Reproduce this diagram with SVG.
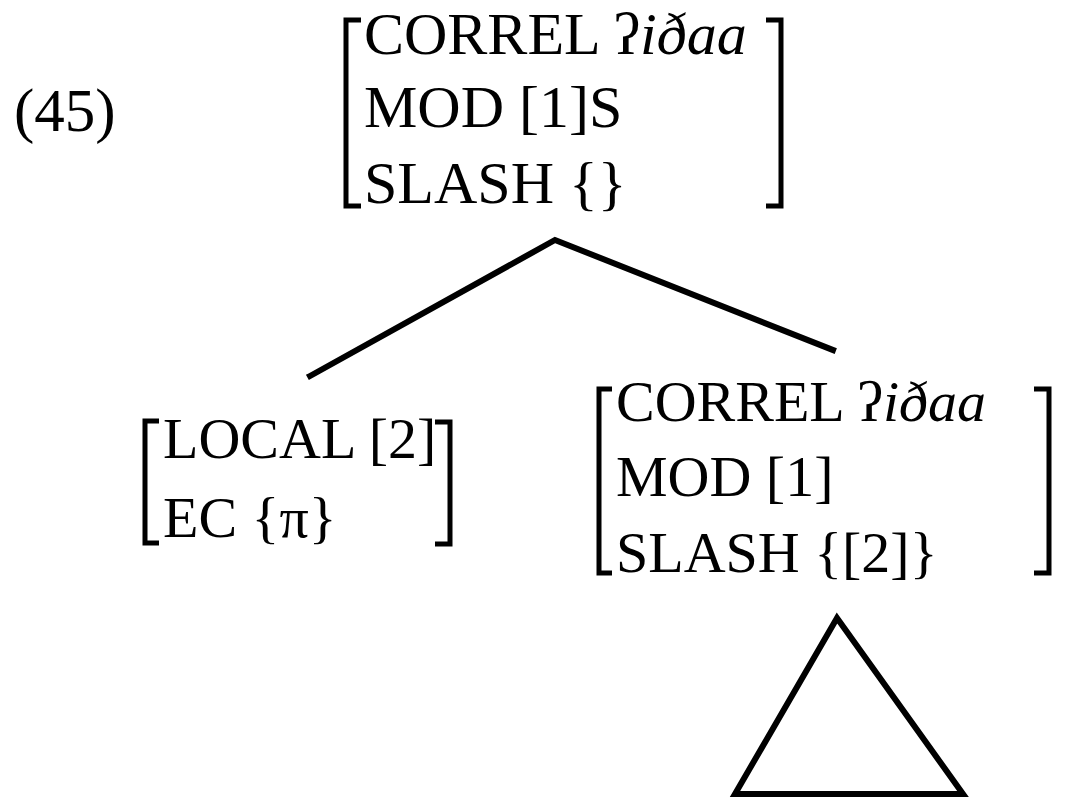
<svg xmlns="http://www.w3.org/2000/svg" width="1068" height="799" viewBox="0 0 1068 799">
<style>
.t{font-family:"Liberation Serif","Times New Roman",serif;fill:#000}
.it{font-style:italic}
.br{fill:none;stroke:#000;stroke-width:5;stroke-linecap:butt;stroke-linejoin:miter}
.ln{fill:none;stroke:#000;stroke-width:6;stroke-linecap:square}
</style>
<rect width="1068" height="799" fill="#fff"/>
<text class="t" x="14" y="131" font-size="61">(45)</text>
<g id="node-top">
<path class="br" d="M361,20 H346 V206 H361"/>
<path class="br" d="M766,20 H781 V206 H766"/>
<text class="t" font-size="60" x="364" y="54">CORREL ʔ<tspan class="it">iðaa</tspan></text>
<text class="t" font-size="60" x="364" y="127">MOD [1]S</text>
<text class="t" font-size="60" x="364" y="203">SLASH {}</text>
</g>
<g id="node-left">
<path class="br" d="M159,421 H145 V543 H159"/>
<path class="br" d="M435,422 H450 V544 H435"/>
<text class="t" font-size="58" x="163" y="458">LOCAL [2]</text>
<text class="t" font-size="58" x="163" y="537">EC {π}</text>
</g>
<g id="node-right">
<path class="br" d="M612,389 H599 V573 H612"/>
<path class="br" d="M1034,389 H1049 V573 H1034"/>
<text class="t" font-size="58" x="616" y="421">CORREL ʔ<tspan class="it">iðaa</tspan></text>
<text class="t" font-size="58" x="616" y="496">MOD [1]</text>
<text class="t" font-size="58" x="616" y="572">SLASH {[2]}</text>
</g>
<g id="node-triangle">
<path d="M837,618 L735,794 H963 Z" fill="none" stroke="#000" stroke-width="6" stroke-linejoin="miter"/>
</g>
<g id="connectors">
<polyline class="ln" points="310,376 555,240 833,350" stroke-linecap="butt" stroke-linejoin="miter"/>
</g>
</svg>
